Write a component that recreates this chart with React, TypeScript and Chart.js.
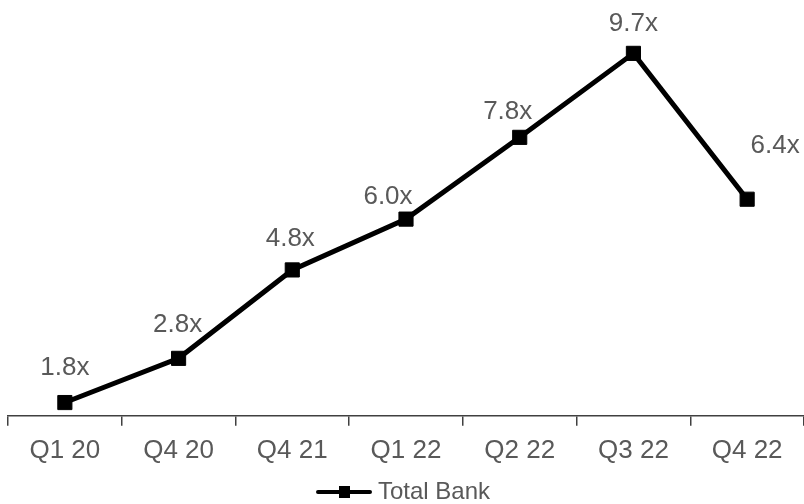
import { useEffect, useRef } from "react";
import { Chart, registerables } from "chart.js";

Chart.register(...registerables);

const categories = ["Q1 20", "Q4 20", "Q4 21", "Q1 22", "Q2 22", "Q3 22", "Q4 22"];
const totalBank = [1.8, 2.8, 4.8, 5.95, 7.8, 9.7, 6.4];
const valueLabels = ["1.8x", "2.8x", "4.8x", "6.0x", "7.8x", "9.7x", "6.4x"];
const seriesName = "Total Bank";

// label placement relative to each point (dx, dy) in pixels
const labelOffsets: [number, number][] = [
  [0, -35],
  [-1, -34],
  [-2, -31],
  [-18, -22],
  [-12, -26],
  [0, -30],
  [28, -53],
];

const FONT = "'Liberation Sans', Arial, sans-serif";
const TEXT = "#595959";

function makeLegendIcon(): HTMLCanvasElement {
  const c = document.createElement("canvas");
  c.width = 56;
  c.height = 14;
  const ctx = c.getContext("2d")!;
  ctx.fillStyle = "#000";
  ctx.fillRect(2, 5, 52, 4);
  ctx.beginPath();
  ctx.arc(2, 7, 2, 0, Math.PI * 2);
  ctx.arc(54, 7, 2, 0, Math.PI * 2);
  ctx.fill();
  ctx.fillRect(23, 1, 11, 12);
  return c;
}

const dataLabelPlugin = {
  id: "dataLabels",
  afterDatasetsDraw(chart: any) {
    const ctx = chart.ctx;
    const meta = chart.getDatasetMeta(0);
    ctx.save();
    ctx.font = `26px ${FONT}`;
    ctx.fillStyle = TEXT;
    ctx.textAlign = "center";
    ctx.textBaseline = "middle";
    meta.data.forEach((pt: any, i: number) => {
      const [dx, dy] = labelOffsets[i];
      ctx.fillText(valueLabels[i], pt.x + dx, pt.y + dy);
    });
    ctx.restore();
  },
};

export default function App() {
  const ref = useRef<HTMLCanvasElement | null>(null);

  useEffect(() => {
    if (!ref.current) return;
    const icon = makeLegendIcon();
    const chart = new Chart(ref.current, {
      type: "line",
      data: {
        labels: categories,
        datasets: [
          {
            label: seriesName,
            data: totalBank,
            borderColor: "#000000",
            backgroundColor: "#000000",
            borderWidth: 5,
            tension: 0,
            pointStyle: "rect",
            pointRadius: 10,
            pointBorderWidth: 1,
            pointBackgroundColor: "#000000",
            pointBorderColor: "#000000",
          },
        ],
      },
      options: {
        responsive: false,
        animation: false,
        devicePixelRatio: 1,
        layout: { autoPadding: false, padding: { top: 18, left: 8, right: 0, bottom: 0 } },
        scales: {
          x: {
            offset: true,
            grid: {
              offset: true,
              drawOnChartArea: false,
              drawTicks: true,
              tickLength: 10,
              color: "#404040",
              lineWidth: 1.5,
            },
            border: { display: true, color: "#404040", width: 1.5 },
            ticks: {
              color: TEXT,
              font: { family: FONT, size: 26 },
              padding: 9,
              maxRotation: 0,
              autoSkip: false,
            },
          },
          y: { display: false, min: 1.5, max: 10.5 },
        },
        plugins: {
          legend: {
            position: "bottom",
            labels: {
              usePointStyle: true,
              pointStyleWidth: 44,
              padding: 5,
              color: TEXT,
              font: { family: FONT, size: 24 },
              generateLabels: () => [
                {
                  text: seriesName,
                  pointStyle: icon as any,
                  fillStyle: "#000",
                  strokeStyle: "#000",
                  lineWidth: 0,
                  hidden: false,
                  datasetIndex: 0,
                  fontColor: TEXT,
                } as any,
              ],
            },
          },
          tooltip: { enabled: false },
        },
      },
      plugins: [dataLabelPlugin],
    });
    return () => chart.destroy();
  }, []);

  return (
    <div
      style={{
        position: "fixed",
        left: 0,
        top: 0,
        width: 804,
        height: 504,
        overflow: "hidden",
        background: "#fff",
      }}
    >
      <canvas ref={ref} width={804} height={514} style={{ display: "block", width: 804, height: 514 }} />
    </div>
  );
}
